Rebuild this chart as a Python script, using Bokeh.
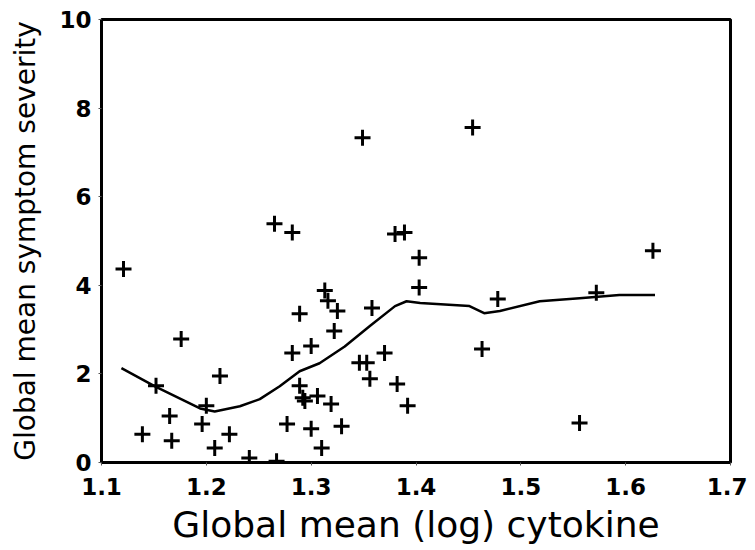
from bokeh.plotting import figure
from bokeh.models import FixedTicker, Range1d
from bokeh.embed import file_html
from bokeh.resources import INLINE

# Scatter data: global mean (log) cytokine vs global mean symptom severity
cytokine = [1.121, 1.139, 1.152, 1.165, 1.167, 1.176, 1.200, 1.196, 1.208, 1.222,
            1.213, 1.241, 1.267, 1.265, 1.282, 1.277, 1.300, 1.310, 1.329, 1.319,
            1.306, 1.292, 1.289, 1.294, 1.282, 1.300, 1.289, 1.313, 1.316, 1.325,
            1.322, 1.358, 1.370, 1.346, 1.353, 1.356, 1.382, 1.392, 1.349, 1.380,
            1.389, 1.403, 1.403, 1.454, 1.478, 1.463, 1.556, 1.572, 1.626]
severity = [4.37, 0.64, 1.73, 1.05, 0.49, 2.79, 1.28, 0.87, 0.33, 0.64,
            1.95, 0.10, 0.03, 5.39, 5.19, 0.87, 0.76, 0.33, 0.82, 1.32,
            1.50, 1.46, 1.73, 1.39, 2.47, 2.63, 3.36, 3.88, 3.65, 3.42,
            2.97, 3.49, 2.47, 2.25, 2.25, 1.89, 1.77, 1.28, 7.33, 5.16,
            5.19, 4.62, 3.95, 7.56, 3.69, 2.56, 0.89, 3.83, 4.78]

# Smoothed trend line
trend_x = [1.119, 1.151, 1.194, 1.208, 1.232, 1.251, 1.270, 1.289, 1.308, 1.332,
           1.356, 1.380, 1.391, 1.404, 1.451, 1.465, 1.480, 1.518, 1.556, 1.594, 1.628]
trend_y = [2.13, 1.72, 1.22, 1.15, 1.27, 1.43, 1.72, 2.06, 2.24, 2.62,
           3.08, 3.53, 3.64, 3.60, 3.53, 3.37, 3.42, 3.64, 3.71, 3.78, 3.78]

x_ticks = [1.1, 1.2, 1.3, 1.4, 1.5, 1.6, 1.7]
y_ticks = [0, 2, 4, 6, 8, 10]

p = figure(width=747, height=547, output_backend="svg", toolbar_location=None,
           x_range=Range1d(1.1, 1.7), y_range=Range1d(0, 10),
           min_border_left=101, min_border_top=19, min_border_right=17, min_border_bottom=78)

p.background_fill_color = "white"
p.border_fill_color = "white"
p.outline_line_color = "black"
p.outline_line_width = 3
p.grid.visible = False

p.line(trend_x, trend_y, line_color="black", line_width=2.5)
p.scatter(cytokine, severity, marker="cross", size=16, line_color="black", line_width=3)

for ax in (p.xaxis[0], p.yaxis[0]):
    ax.axis_line_color = "black"
    ax.axis_line_width = 3
    ax.major_tick_line_color = "#555555"
    ax.major_tick_line_width = 1
    ax.major_tick_in = 0
    ax.major_tick_out = 3
    ax.minor_tick_line_color = None
    ax.major_label_text_font = "DejaVu Sans"
    ax.major_label_text_font_style = "bold"
    ax.major_label_text_font_size = "23px"
    ax.major_label_text_color = "black"
    ax.axis_label_text_font = "DejaVu Sans"
    ax.axis_label_text_font_style = "normal"
    ax.axis_label_text_color = "black"

p.xaxis.ticker = FixedTicker(ticks=x_ticks)
p.yaxis.ticker = FixedTicker(ticks=y_ticks)
p.xaxis.axis_label = "Global mean (log) cytokine"
p.yaxis.axis_label = "Global mean symptom severity"
p.xaxis.axis_label_text_font_size = "36px"
p.yaxis.axis_label_text_font_size = "28px"
p.xaxis.major_label_standoff = 12
p.yaxis.major_label_standoff = 7
p.xaxis.axis_label_standoff = 6
p.yaxis.axis_label_standoff = 14

open("out.html", "w").write(file_html(p, INLINE))
